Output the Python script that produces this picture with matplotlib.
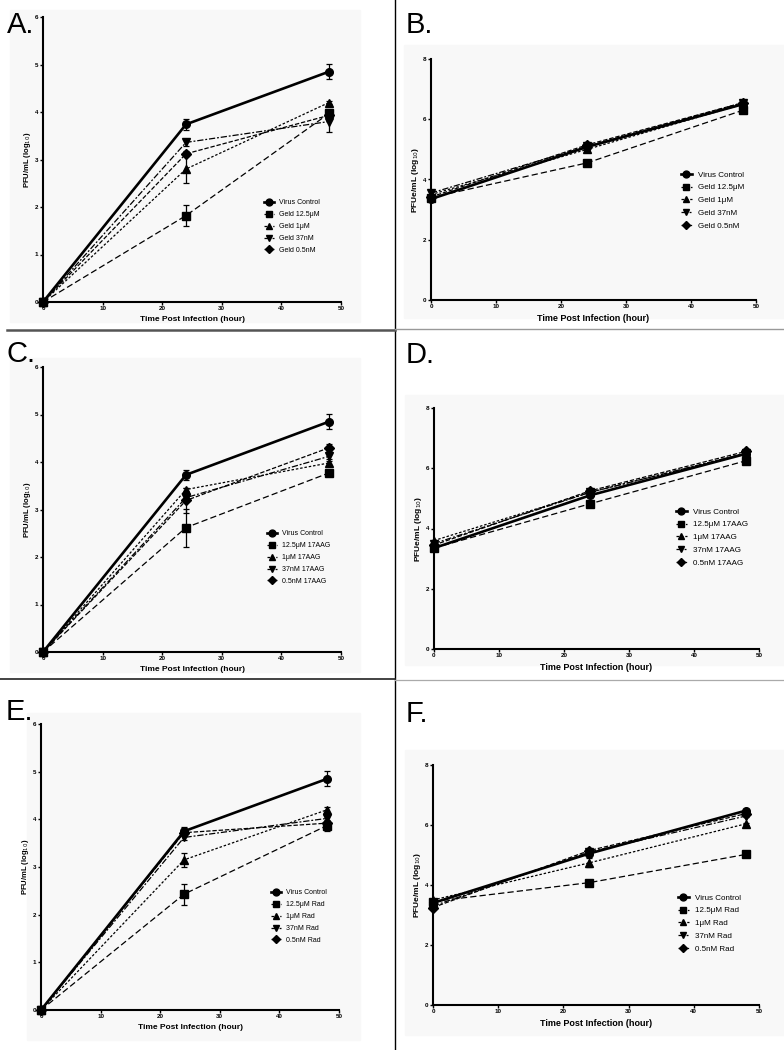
"""
Six-panel virus growth curves (PFU/mL) with Hsp90 inhibitors
"""

import matplotlib
matplotlib.use("Agg")
import matplotlib.pyplot as plt
from matplotlib.lines import Line2D
from matplotlib.patches import Rectangle

plt.rcParams["font.family"] = ["Liberation Sans", "DejaVu Sans"]

W, H = 784, 1050

time_h = [0, 24, 48]

# panel A - Geldanamycin, log10 PFU/mL
a_labels = ["Virus Control", "Geld 12.5\u03bcM", "Geld 1\u03bcM", "Geld 37nM", "Geld 0.5nM"]
a_vc = [0, 3.74, 4.85]
a_125 = [0, 1.82, 3.97]
a_1 = [0, 2.80, 4.20]
a_37 = [0, 3.36, 3.80]
a_05 = [0, 3.12, 3.93]
a_err = [[0, 0.11, 0.16], [0, 0.22, 0.05], [0, 0.30, 0.04], [0, 0.07, 0.22], [0, 0.05, 0.05]]

# panel B - Geldanamycin, PFUe/mL
b_labels = a_labels
b_vc = [3.35, 5.08, 6.50]
b_125 = [3.40, 4.55, 6.30]
b_1 = [3.50, 5.00, 6.50]
b_37 = [3.55, 5.10, 6.55]
b_05 = [3.42, 5.15, 6.55]

# panel C - 17AAG, log10 PFU/mL
c_labels = ["Virus Control", "12.5\u03bcM 17AAG", "1\u03bcM 17AAG", "37nM 17AAG", "0.5nM 17AAG"]
c_vc = [0, 3.73, 4.85]
c_125 = [0, 2.62, 3.77]
c_1 = [0, 3.42, 3.98]
c_37 = [0, 3.25, 4.12]
c_05 = [0, 3.19, 4.30]
c_err = [[0, 0.11, 0.16], [0, 0.40, 0.03], [0, 0.04, 0.04], [0, 0.05, 0.05], [0, 0.26, 0.07]]

# panel D - 17AAG, PFUe/mL
d_labels = c_labels
d_vc = [3.35, 5.10, 6.48]
d_125 = [3.35, 4.82, 6.25]
d_1 = [3.60, 5.20, 6.50]
d_37 = [3.50, 5.20, 6.50]
d_05 = [3.45, 5.25, 6.56]

# panel E - Radicicol, log10 PFU/mL
e_labels = ["Virus Control", "12.5\u03bcM Rad", "1\u03bcM Rad", "37nM Rad", "0.5nM Rad"]
e_vc = [0, 3.75, 4.85]
e_125 = [0, 2.43, 3.87]
e_1 = [0, 3.15, 4.20]
e_37 = [0, 3.62, 4.02]
e_05 = [0, 3.72, 3.92]
e_err = [[0, 0.09, 0.16], [0, 0.22, 0.12], [0, 0.14, 0.05], [0, 0.05, 0.05], [0, 0.05, 0.05]]

# panel F - Radicicol, PFUe/mL
f_labels = e_labels
f_vc = [3.40, 5.05, 6.48]
f_125 = [3.45, 4.08, 5.02]
f_1 = [3.50, 4.74, 6.04]
f_37 = [3.30, 5.10, 6.30]
f_05 = [3.25, 5.15, 6.38]
f_err = [[0, 0.05, 0.04], [0, 0.04, 0.04], [0, 0.15, 0.04], [0, 0.05, 0.04], [0, 0.05, 0.04]]

MARKERS = ["o", "s", "^", "v", "D"]
MSIZES = [5.5, 5.5, 5.5, 5.5, 5.0]
LWS = [1.9, 0.9, 0.9, 0.9, 0.9]
DASHES = [None, (5, 2.5), (2, 1.5), (5, 1.5, 1.5, 1.5), (3.5, 1.5)]


def fx(x):
    return x / W


def fy(y):
    return 1 - y / H


fig = plt.figure(figsize=(W / 100, H / 100), dpi=100)

# faint grey backgrounds behind each graph (pixel boxes)
for x0, y0, x1, y1 in [
    (10, 10, 360, 322), (404, 45, 784, 318),
    (10, 358, 360, 672), (405, 395, 784, 665),
    (27, 713, 360, 1040), (405, 750, 784, 1035),
]:
    fig.patches.append(Rectangle((fx(x0), fy(y1)), fx(x1 - x0), (y1 - y0) / H,
                                 transform=fig.transFigure, color="#f8f8f8", zorder=-10))

# panel dividers
fig.add_artist(Line2D([fx(395), fx(395)], [0, 1], color="black", lw=1.0))
fig.add_artist(Line2D([fx(7), fx(395)], [fy(330), fy(330)], color="#555555", lw=1.8))
fig.add_artist(Line2D([fx(395), fx(784)], [fy(329), fy(329)], color="#999999", lw=1.0))
fig.add_artist(Line2D([fx(0), fx(395)], [fy(679), fy(679)], color="#222222", lw=1.2))
fig.add_artist(Line2D([fx(395), fx(784)], [fy(680), fy(680)], color="#aaaaaa", lw=0.9))

PANELS = [
    ("A.", (43, 17, 341, 302), 6, "PFU/mL (log$_{10}$)", a_labels,
     [a_vc, a_125, a_1, a_37, a_05], a_err, (261, 196), (7, 33)),
    ("B.", (431, 59, 756, 300), 8, "PFUe/mL (log$_{10}$)", b_labels,
     [b_vc, b_125, b_1, b_37, b_05], None, (677, 167), (406, 33)),
    ("C.", (43, 367, 341, 652), 6, "PFU/mL (log$_{10}$)", c_labels,
     [c_vc, c_125, c_1, c_37, c_05], c_err, (264, 527), (6, 362)),
    ("D.", (434, 408, 759, 649), 8, "PFUe/mL (log$_{10}$)", d_labels,
     [d_vc, d_125, d_1, d_37, d_05], None, (672, 504), (406, 363)),
    ("E.", (41, 724, 339, 1010), 6, "PFU/mL (log$_{10}$)", e_labels,
     [e_vc, e_125, e_1, e_37, e_05], e_err, (268, 886), (6, 720)),
    ("F.", (433, 765, 759, 1005), 8, "PFUe/mL (log$_{10}$)", f_labels,
     [f_vc, f_125, f_1, f_37, f_05], f_err, (674, 890), (406, 722)),
]

for letter, (x0, y0, x1, y1), ymax, ylab, labels, series, errs, leg_xy, let_xy in PANELS:
    ax = fig.add_axes([fx(x0), fy(y1), (x1 - x0) / W, (y1 - y0) / H])
    ax.patch.set_alpha(0)

    # draw treatments first, virus control on top
    for i in [1, 2, 3, 4, 0]:
        line, = ax.plot(time_h, series[i], color="black", lw=LWS[i], marker=MARKERS[i],
                        ms=MSIZES[i], label=labels[i], clip_on=False, zorder=3 + (i == 0))
        if DASHES[i] is not None:
            line.set_dashes(DASHES[i])
        if errs is not None:
            ax.errorbar(time_h, series[i], yerr=errs[i], fmt="none", ecolor="black",
                        elinewidth=0.9, capsize=2.5, capthick=0.9, clip_on=False)

    ax.set_xlim(0, 50)
    ax.set_ylim(0, ymax)
    ax.set_xticks(range(0, 51, 10))
    ax.set_yticks(range(0, ymax + 1, 1 if ymax == 6 else 2))
    for side in ["top", "right"]:
        ax.spines[side].set_visible(False)
    for side in ["left", "bottom"]:
        ax.spines[side].set_linewidth(1.5)
    ax.tick_params(direction="out", length=2, width=1, labelsize=4.5, pad=1.2)
    for lbl in ax.get_xticklabels() + ax.get_yticklabels():
        lbl.set_fontweight("bold")

    fs = 6 if ymax == 6 else 6.5
    ax.set_xlabel("Time Post Infection (hour)", fontsize=fs, fontweight="bold", labelpad=3)
    ax.set_ylabel(ylab, fontsize=fs - 0.5, fontweight="bold", labelpad=1.5)

    handles, hlabels = ax.get_legend_handles_labels()
    order = [hlabels.index(lab) for lab in labels]
    ax.legend([handles[k] for k in order], [hlabels[k] for k in order],
              loc="upper left", bbox_to_anchor=(fx(leg_xy[0]), fy(leg_xy[1])),
              bbox_transform=fig.transFigure, frameon=False,
              fontsize=5.0 if ymax == 6 else 5.8, handlelength=1.3, handletextpad=0.8,
              labelspacing=0.7 if ymax == 6 else 0.64, borderpad=0, markerscale=0.9)

    fig.text(fx(let_xy[0]), fy(let_xy[1]), letter, fontsize=21, ha="left", va="baseline")

fig.savefig("out.png", dpi=100)
